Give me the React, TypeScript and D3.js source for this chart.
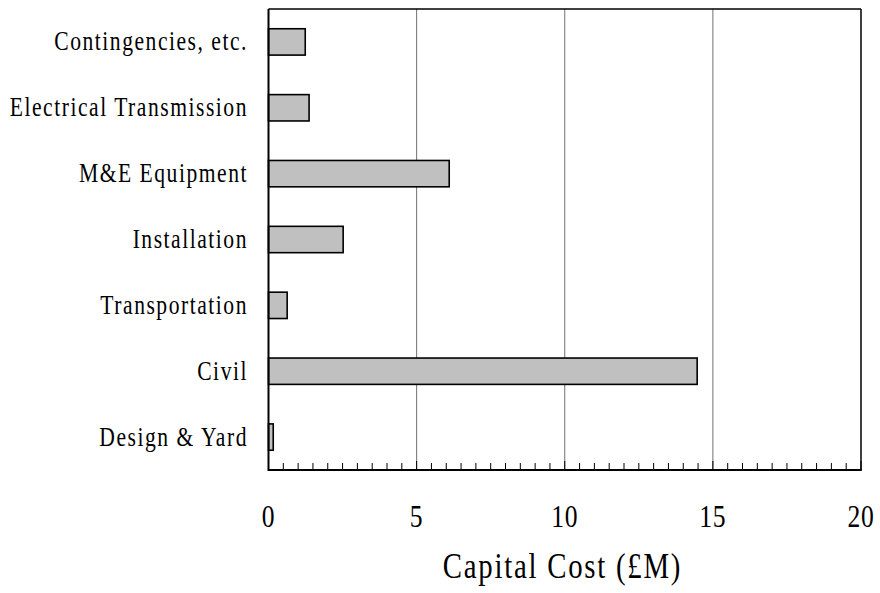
import React from "react";
import * as d3 from "d3";

const categories = [
  "Contingencies, etc.",
  "Electrical Transmission",
  "M&E Equipment",
  "Installation",
  "Transportation",
  "Civil",
  "Design & Yard",
];
const values = [1.24, 1.37, 6.1, 2.52, 0.63, 14.47, 0.16];
const xTicks = [0, 5, 10, 15, 20];
const gridValues = [5, 10, 15];
const xTitle = "Capital Cost (£M)";

const W = 880;
const H = 593;
const left = 268.5;
const right = 861;
const top = 9;
const bottom = 470;
const font = "'Liberation Serif', 'DejaVu Serif', serif";

export default function App() {
  const x = d3.scaleLinear().domain([0, 20]).range([left, right]);
  const y = d3.scaleBand().domain(categories).range([top, bottom]).paddingInner(0.6).paddingOuter(0.3);
  const minor = d3.range(0, 20.001, 0.5);

  return (
    <svg width={W} height={H} style={{ position: "absolute", left: 0, top: 0, background: "#fff" }}>
      {gridValues.map((v) => (
        <line key={"g" + v} x1={x(v)} x2={x(v)} y1={top} y2={bottom} stroke="#707070" strokeWidth={1} />
      ))}
      {minor.map((v, i) => (
        <line
          key={"t" + i}
          x1={x(v)}
          x2={x(v)}
          y1={bottom}
          y2={bottom - (i % 10 === 0 ? 9 : 7)}
          stroke="#000"
          strokeWidth={1}
        />
      ))}
      {categories.map((c, i) => (
        <rect
          key={c}
          x={x(0)}
          y={y(c)!}
          width={x(values[i]) - x(0)}
          height={y.bandwidth()}
          fill="#c0c0c0"
          stroke="#000"
          strokeWidth={1.6}
        />
      ))}
      <line x1={left} x2={right} y1={top} y2={top} stroke="#000" strokeWidth={1.5} />
      <line x1={right} x2={right} y1={top} y2={bottom} stroke="#000" strokeWidth={1.5} />
      <line x1={left} x2={right + 0.75} y1={bottom} y2={bottom} stroke="#000" strokeWidth={2} />
      <line x1={left} x2={left} y1={top} y2={bottom + 1} stroke="#000" strokeWidth={2} />
      {categories.map((c) => (
        <text
          key={"l" + c}
          transform={`translate(248,${y(c)! + y.bandwidth() / 2 + 8.5}) scale(0.8,1)`}
          textAnchor="end"
          fontFamily={font}
          fontSize={27}
          letterSpacing={1.9}
          fill="#000"
        >
          {c}
        </text>
      ))}
      {xTicks.map((v) => (
        <text
          key={"x" + v}
          transform={`translate(${x(v)},527) scale(0.8,1)`}
          textAnchor="middle"
          fontFamily={font}
          fontSize={32}
          letterSpacing={1}
          fill="#000"
        >
          {v}
        </text>
      ))}
      <text
        transform="translate(562.5,578) scale(0.8,1)"
        textAnchor="middle"
        fontFamily={font}
        fontSize={36}
        letterSpacing={2.2}
        fill="#000"
      >
        {xTitle}
      </text>
    </svg>
  );
}
